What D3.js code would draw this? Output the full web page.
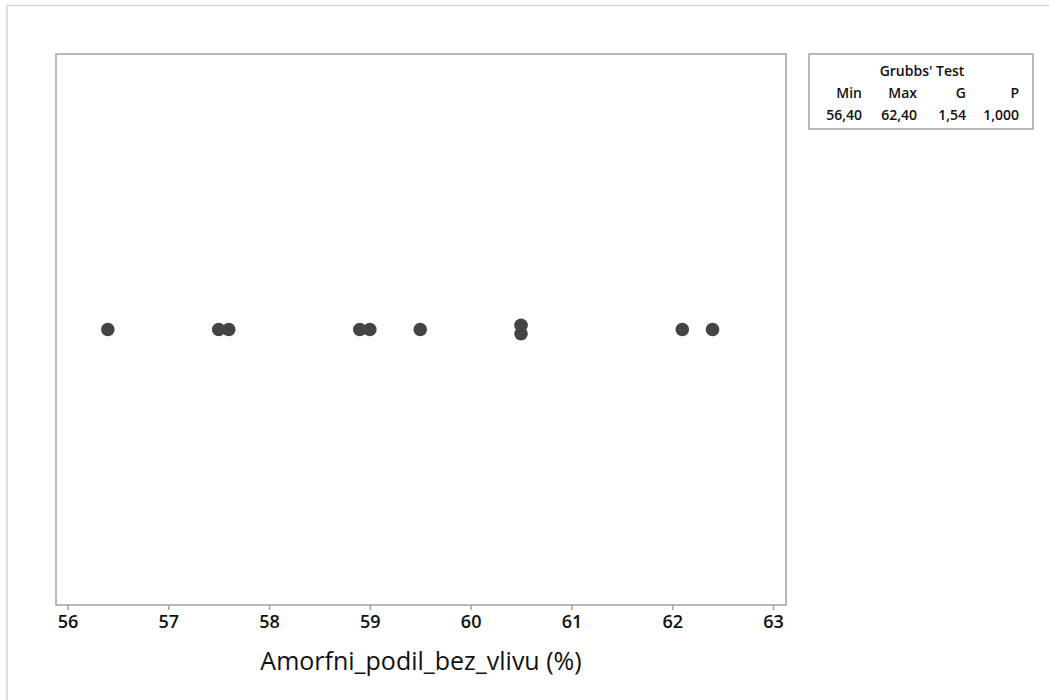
<!DOCTYPE html>
<html>
  <head>
    <script src="https://d3js.org/d3.v7.min.js"></script>
    <style>
      body { margin: 0; background: #fff; }
      svg { font-family: "Open Sans", sans-serif; }
    </style>
  </head>
  <body>
    <svg id="chart" width="1049" height="700"></svg>
    <script>
      const values = [56.4, 57.5, 57.6, 58.9, 59.0, 59.5, 60.5, 60.5, 62.1, 62.4];
      const xTicks = [56, 57, 58, 59, 60, 61, 62, 63];
      const xLabel = "Amorfni_podil_bez_vlivu (%)";
      const tableTitle = "Grubbs' Test";
      const tableHead = ["Min", "Max", "G", "P"];
      const tableRow = ["56,40", "62,40", "1,54", "1,000"];

      const svg = d3.select("#chart");
      const plot = {left: 56, top: 54, right: 786, bottom: 605};

      // outer frame (only top and left fall inside the picture)
      svg.append("rect")
        .attr("x", 7).attr("y", 5.5)
        .attr("width", 1100).attr("height", 800)
        .attr("fill", "none")
        .attr("stroke", "#d4d4d4")
        .attr("stroke-width", 1.5);

      svg.append("rect")
        .attr("x", plot.left).attr("y", plot.top)
        .attr("width", plot.right - plot.left)
        .attr("height", plot.bottom - plot.top)
        .attr("fill", "none")
        .attr("stroke", "#a3a3a3")
        .attr("stroke-width", 1.5);

      let x = d3.scaleLinear().domain([56, 63]).range([67.5, 773]);

      let bottomAxis = d3.axisBottom(x)
        .tickValues(xTicks)
        .tickSize(5)
        .tickPadding(5)
        .tickFormat(d3.format("d"));
      const ax = svg.append("g")
        .attr("transform", `translate(0,${plot.bottom})`)
        .call(bottomAxis);
      ax.select(".domain").remove();
      ax.selectAll(".tick line").attr("stroke", "#a3a3a3").attr("stroke-width", 1.5);
      ax.selectAll(".tick text")
        .attr("fill", "#111")
        .style("font-size", "18px")
        .style("font-weight", "600")
        .style("font-family", "'Open Sans', sans-serif");

      svg.append("text")
        .attr("x", (plot.left + plot.right) / 2)
        .attr("y", 670)
        .attr("text-anchor", "middle")
        .attr("fill", "#111")
        .style("font-size", "25px")
        .style("font-weight", "500")
        .text(xLabel);

      // stack repeated values
      const seen = {};
      const counts = {};
      values.forEach(v => { counts[v] = (counts[v] || 0) + 1; });
      const points = values.map(v => {
        const k = seen[v] || 0;
        seen[v] = k + 1;
        return {v: v, k: k, n: counts[v]};
      });
      const midY = (plot.top + plot.bottom) / 2;
      const step = 8.6;
      svg.selectAll("circle.dot").data(points)
        .join("circle")
        .attr("class", "dot")
        .attr("cx", d => x(d.v))
        .attr("cy", d => midY - (d.k - (d.n - 1) / 2) * step)
        .attr("r", 6.8)
        .attr("fill", "#444444");

      // Grubbs' test table
      const tbl = svg.append("g");
      tbl.append("rect")
        .attr("x", 809).attr("y", 54)
        .attr("width", 224).attr("height", 75)
        .attr("fill", "#fff")
        .attr("stroke", "#a3a3a3")
        .attr("stroke-width", 1.5);
      tbl.append("text")
        .attr("x", 922).attr("y", 76)
        .attr("text-anchor", "middle")
        .attr("fill", "#111")
        .style("font-size", "14px")
        .style("font-weight", "600")
        .text(tableTitle);
      const colRight = [862, 917, 966, 1019];
      tableHead.forEach((h, i) => {
        tbl.append("text")
          .attr("x", colRight[i]).attr("y", 98)
          .attr("text-anchor", "end")
          .attr("fill", "#111")
          .style("font-size", "14px")
          .style("font-weight", "600")
          .text(h);
      });
      tableRow.forEach((h, i) => {
        tbl.append("text")
          .attr("x", colRight[i]).attr("y", 120)
          .attr("text-anchor", "end")
          .attr("fill", "#111")
          .style("font-size", "14px")
          .style("font-weight", "600")
          .text(h);
      });
    </script>
  </body>
</html>
